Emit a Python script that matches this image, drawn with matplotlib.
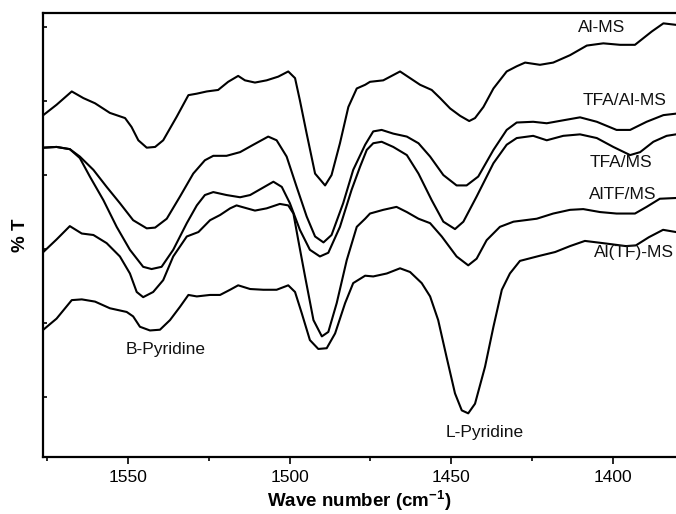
import matplotlib
matplotlib.use("Agg")
import matplotlib.pyplot as plt
from matplotlib.ticker import MultipleLocator

plt.rcParams['font.family'] = ['Liberation Sans', 'DejaVu Sans']
plt.rcParams['mathtext.fontset'] = 'custom'
plt.rcParams['mathtext.rm'] = 'Liberation Sans'
plt.rcParams['mathtext.bf'] = 'Liberation Sans:bold'

# ---- data (wavenumber in cm-1, transmittance in arbitrary % T units) ----
al_ms_x = [1576.2, 1572.1, 1567.4, 1563.8, 1560.2, 1555.6, 1550.9, 1548.9, 1546.8, 1544.2,
           1541.6, 1539.1, 1534.9, 1531.3, 1528.7, 1525.6, 1522.1, 1519.0, 1515.9, 1513.8,
           1510.7, 1507.1, 1503.5, 1500.4, 1498.3, 1496.8, 1494.7, 1492.1, 1489.0, 1487.0,
           1484.4, 1481.8, 1479.2, 1476.6, 1475.1, 1471.0, 1465.8, 1462.7, 1459.6, 1456.0,
           1453.4, 1450.3, 1447.2, 1444.4, 1442.6, 1440.0, 1436.9, 1432.8, 1429.7, 1427.1,
           1422.5, 1418.4, 1413.2, 1408.0, 1402.9, 1397.7, 1393.1, 1387.9, 1384.3, 1380.4]
al_ms_y = [48.1, 49.5, 51.3, 50.4, 49.7, 48.4, 47.7, 46.5, 44.7, 43.7,
           43.8, 44.7, 47.9, 50.8, 51.0, 51.3, 51.5, 52.6, 53.4, 52.8,
           52.5, 52.8, 53.3, 54.0, 53.1, 50.1, 45.6, 40.2, 38.6, 40.0,
           44.3, 49.2, 51.7, 52.2, 52.6, 52.8, 54.0, 53.1, 52.2, 51.5,
           50.4, 49.0, 48.0, 47.3, 47.7, 49.2, 51.7, 54.0, 54.7, 55.2,
           54.9, 55.2, 56.2, 57.5, 57.8, 57.6, 57.6, 59.4, 60.5, 60.3]

tfa_al_ms_x = [1576.2, 1572.1, 1568.0, 1564.9, 1560.7, 1556.6, 1552.5, 1548.4, 1544.2, 1541.6,
               1538.0, 1533.9, 1529.8, 1526.2, 1523.6, 1519.5, 1515.3, 1511.2, 1506.6, 1504.0,
               1500.9, 1497.8, 1494.7, 1492.1, 1489.5, 1487.0, 1483.4, 1480.3, 1476.6, 1474.1,
               1471.5, 1467.9, 1463.7, 1460.1, 1456.5, 1452.4, 1448.3, 1445.2, 1441.6, 1436.9,
               1432.8, 1429.7, 1424.6, 1420.4, 1415.3, 1410.1, 1404.9, 1398.8, 1394.6, 1389.5,
               1384.3, 1380.4]
tfa_al_ms_y = [43.7, 43.8, 43.5, 42.5, 40.7, 38.4, 36.2, 33.9, 32.8, 32.9,
               34.1, 37.1, 40.2, 42.0, 42.6, 42.6, 43.1, 44.1, 45.2, 44.7,
               42.5, 38.4, 34.4, 31.7, 30.9, 31.9, 36.2, 40.7, 44.1, 45.9,
               46.1, 45.6, 45.2, 44.3, 42.5, 40.0, 38.6, 38.6, 39.8, 43.4,
               46.1, 47.1, 47.2, 47.0, 47.4, 47.8, 47.2, 46.1, 46.1, 47.2,
               48.1, 48.3]

tfa_ms_x = [1576.2, 1572.1, 1568.0, 1564.9, 1561.8, 1557.6, 1553.5, 1549.4, 1545.3, 1542.7,
            1539.6, 1536.0, 1531.8, 1528.7, 1526.2, 1523.6, 1519.5, 1515.3, 1512.2, 1508.6,
            1505.0, 1502.4, 1499.9, 1496.8, 1493.7, 1490.6, 1488.0, 1484.4, 1480.8, 1478.2,
            1476.1, 1474.1, 1471.5, 1467.9, 1463.7, 1460.1, 1456.0, 1452.4, 1448.8, 1446.2,
            1442.1, 1436.9, 1432.8, 1429.7, 1424.6, 1420.4, 1415.3, 1410.1, 1404.9, 1399.8,
            1394.6, 1391.5, 1387.4, 1383.3, 1380.4]
tfa_ms_y = [43.7, 43.8, 43.5, 42.3, 39.8, 36.6, 33.0, 29.9, 27.6, 27.3,
            27.6, 29.9, 33.5, 35.9, 37.3, 37.7, 37.3, 37.0, 37.3, 38.2,
            39.1, 38.4, 36.2, 32.6, 29.9, 29.0, 29.5, 33.0, 38.0, 41.1,
            43.4, 44.3, 44.5, 43.8, 42.7, 40.2, 36.6, 33.7, 32.7, 33.7,
            37.1, 41.6, 44.1, 45.0, 45.3, 44.7, 45.3, 45.5, 45.0, 43.8,
            42.7, 43.1, 44.5, 45.3, 45.5]

altf_ms_x = [1576.2, 1572.1, 1568.0, 1564.3, 1560.7, 1556.6, 1552.5, 1549.4, 1547.3, 1545.3,
             1542.2, 1539.1, 1536.0, 1531.8, 1528.2, 1524.6, 1521.5, 1518.4, 1516.4, 1514.8,
             1510.7, 1507.1, 1503.0, 1500.4, 1498.8, 1497.3, 1495.2, 1492.6, 1490.0, 1488.0,
             1485.4, 1482.3, 1479.2, 1476.6, 1475.1, 1471.0, 1466.9, 1463.7, 1460.1, 1456.5,
             1452.9, 1448.3, 1444.7, 1442.1, 1439.0, 1434.9, 1430.7, 1427.1, 1423.5, 1418.4,
             1413.2, 1409.1, 1403.9, 1398.8, 1393.1, 1389.5, 1385.4, 1380.4]
altf_ms_y = [29.6, 31.3, 33.1, 32.1, 31.9, 30.8, 29.0, 26.7, 24.2, 23.5,
             24.2, 25.8, 29.0, 31.7, 32.3, 33.9, 34.6, 35.5, 35.9, 35.7,
             35.2, 35.5, 36.1, 35.9, 34.8, 31.2, 26.3, 20.4, 18.2, 18.8,
             22.7, 28.5, 33.0, 34.1, 34.8, 35.3, 35.7, 35.0, 34.1, 33.5,
             31.7, 29.0, 27.8, 28.7, 31.2, 33.0, 33.7, 33.9, 34.1, 34.8,
             35.3, 35.4, 35.0, 34.8, 34.8, 35.7, 36.8, 36.9]

al_tf_ms_x = [1576.2, 1572.1, 1567.4, 1564.3, 1560.2, 1555.6, 1550.4, 1548.4, 1546.3, 1543.2,
              1540.1, 1537.0, 1533.9, 1531.3, 1528.7, 1524.6, 1521.5, 1518.4, 1515.9, 1512.2,
              1508.1, 1504.0, 1500.4, 1498.3, 1496.2, 1493.7, 1491.1, 1488.5, 1485.9, 1482.8,
              1480.3, 1476.6, 1474.1, 1469.9, 1465.8, 1462.7, 1459.1, 1456.5, 1454.0, 1451.4,
              1448.8, 1446.7, 1444.7, 1442.6, 1439.5, 1436.9, 1434.3, 1431.8, 1428.7, 1422.5,
              1417.8, 1413.2, 1408.6, 1403.0, 1395.9, 1392.8, 1388.8, 1384.4, 1380.4]
al_tf_ms_y = [19.1, 20.6, 23.1, 23.2, 22.9, 22.0, 21.5, 20.9, 19.5, 19.0,
              19.1, 20.4, 22.2, 23.8, 23.6, 23.8, 23.8, 24.5, 25.1, 24.6,
              24.5, 24.5, 25.1, 24.2, 21.3, 17.7, 16.5, 16.6, 18.6, 22.7,
              25.4, 26.4, 26.3, 26.7, 27.4, 26.9, 25.4, 23.6, 20.4, 15.4,
              10.5, 8.2, 7.8, 9.1, 14.1, 19.5, 24.5, 26.7, 28.4, 29.1,
              29.6, 30.4, 31.1, 30.8, 30.4, 30.5, 31.6, 32.6, 32.3]

series = [(al_ms_x, al_ms_y), (tfa_al_ms_x, tfa_al_ms_y), (tfa_ms_x, tfa_ms_y),
          (altf_ms_x, altf_ms_y), (al_tf_ms_x, al_tf_ms_y)]

labels = ["Al-MS", "TFA/Al-MS", "TFA/MS", "AlTF/MS", "Al(TF)-MS"]
label_x = [1403.3, 1396.2, 1397.3, 1396.8, 1405.8]
label_y = [60.0, 50.1, 41.7, 37.4, 29.6]
label_ha = ["center", "center", "center", "center", "left"]

band_labels = ["B-Pyridine", "L-Pyridine"]
band_x = [1538.2, 1439.5]
band_y = [16.4, 5.2]

# ---- figure ----
fig = plt.figure(figsize=(6.76, 5.14), dpi=100)
ax = fig.add_axes([43 / 676, 57 / 514, 633 / 676, 444 / 514])

for x, y in series:
    ax.plot(x, y, color='black', lw=1.5)

for t, x, y, ha in zip(labels, label_x, label_y, label_ha):
    ax.text(x, y, t, ha=ha, va='center', fontsize=12.5, color='#111111')
for t, x, y in zip(band_labels, band_x, band_y):
    ax.text(x, y, t, ha='center', va='center', fontsize=12.5, color='#111111')

ax.set_xlim(1576.3, 1380.4)
ax.set_ylim(1.9, 61.9)

ax.xaxis.set_major_locator(MultipleLocator(50))
ax.xaxis.set_minor_locator(MultipleLocator(25))
ax.yaxis.set_major_locator(MultipleLocator(10))
ax.tick_params(axis='x', which='major', direction='out', length=5, width=1.2,
               labelsize=12.5, pad=4)
ax.tick_params(axis='x', which='minor', direction='out', length=3, width=1.2)
ax.tick_params(axis='y', which='major', direction='in', length=3, width=1.2,
               labelleft=False)
for s in ['left', 'bottom', 'top']:
    ax.spines[s].set_linewidth(1.6)
ax.spines['right'].set_visible(False)

ax.set_xlabel("Wave number (cm$^{\\mathbf{-1}}$)", fontsize=13.5, fontweight='bold', labelpad=3)
ax.set_ylabel("% T", fontsize=13.5, fontweight='bold', labelpad=10)

fig.savefig("out.png", dpi=100)
